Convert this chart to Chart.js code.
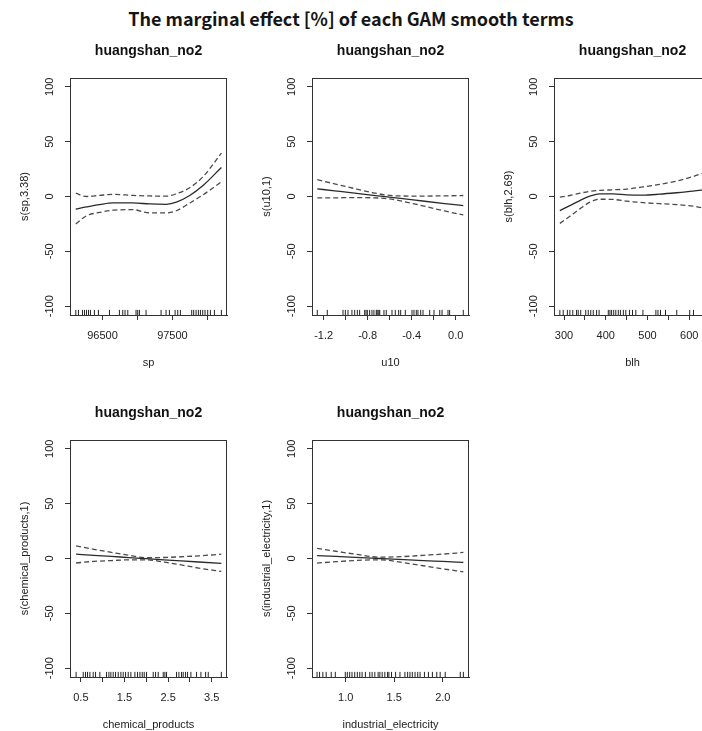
<!DOCTYPE html>
<html><head><meta charset="utf-8">
<script src="https://cdn.jsdelivr.net/npm/chart.js@4.4.1/dist/chart.umd.min.js"></script>
<style>
html,body{margin:0;padding:0;background:#fff;}
#page{position:relative;width:702px;height:731px;overflow:hidden;background:#fff;}
#title{position:absolute;left:0;top:6px;width:702px;text-align:center;font-family:"Noto Sans CJK SC","Noto Sans",sans-serif;font-weight:bold;font-size:18px;line-height:24px;color:#151515;}
.panel{position:absolute;}
canvas{display:block;}
</style></head><body>
<div id="page">
<div id="title">The marginal effect [%] of each GAM smooth terms</div>
<div class="panel" style="left:0px;top:33px;"><canvas id="c1" width="235" height="342"></canvas></div>
<div class="panel" style="left:242px;top:33px;"><canvas id="c2" width="235" height="342"></canvas></div>
<div class="panel" style="left:484px;top:33px;"><canvas id="c3" width="235" height="342"></canvas></div>
<div class="panel" style="left:0px;top:395px;"><canvas id="c4" width="235" height="342"></canvas></div>
<div class="panel" style="left:242px;top:395px;"><canvas id="c5" width="235" height="342"></canvas></div>
</div>
<script>
// ---------- data ----------
const PANEL_TITLE = 'huangshan_no2';
const Y_TICKS = [-100, -50, 0, 50, 100];
const Y_TICK_LABELS = ['-100', '-50', '0', '50', '100'];
const Y_MIN = -108, Y_MAX = 108;

// sp
const SP_X   = [96119, 96271, 96461, 96651, 96937, 97176, 97414, 97557, 97747, 97937, 98200];
const SP_FIT = [-11.4, -9.5, -7.4, -5.9, -5.9, -6.8, -7.1, -5.2, 0.9, 10.0, 26.5];
const SP_UP  = [3.0, 0.0, 1.0, 1.9, 1.0, 0.5, 0.3, 2.5, 8.0, 18.0, 39.5];
const SP_LO  = [-25.0, -17.6, -14.5, -12.5, -12.0, -15.0, -15.0, -13.0, -6.0, 1.5, 13.3];
const SP_RUG = [96119,96157,96214,96243,96271,96300,96328,96385,96442,96600,96742,96790,96823,96862,96980,97004,97028,97123,97338,97409,97457,97538,97576,97614,97776,97804,97838,97871,97900,97933,97966,98004,98043,98100,98200];
const SP_XTICKS = [96500, 97000, 97500, 98000];
const SP_XLABELS = ['96500', '', '97500', ''];

// u10
const U10_X   = [-1.258, -1.1, -0.9, -0.75, -0.62, -0.5, -0.3, -0.1, 0.069];
const U10_FIT = [7.0, 5.2, 2.9, 1.1, -0.4, -1.7, -4.1, -6.4, -8.3];
const U10_UP  = [15.3, 11.5, 6.8, 3.4, 1.2, 0.5, 0.4, 0.6, 0.9];
const U10_LO  = [-1.3, -1.2, -1.0, -1.2, -2.0, -4.0, -8.5, -13.2, -16.8];
const U10_RUG = [-1.258,-1.167,-1.024,-1.003,-0.979,-0.943,-0.918,-0.894,-0.873,-0.827,-0.815,-0.803,-0.782,-0.761,-0.743,-0.722,-0.715,-0.706,-0.697,-0.69,-0.652,-0.631,-0.579,-0.549,-0.518,-0.500,-0.458,-0.397,-0.379,-0.358,-0.343,-0.318,-0.297,-0.236,-0.197,-0.145,-0.124,-0.070,-0.055,0.069];
const U10_XTICKS = [-1.2, -1.0, -0.8, -0.6, -0.4, -0.2, 0.0];
const U10_XLABELS = ['-1.2', '', '-0.8', '', '-0.4', '', '0.0'];

// blh
const BLH_X   = [290, 314, 338, 362, 386, 418, 450, 489, 529, 569, 609, 639];
const BLH_FIT = [-12.8, -8.3, -3.7, 0.3, 2.4, 2.4, 1.5, 1.2, 2.1, 3.4, 4.9, 6.3];
const BLH_UP  = [-0.6, 0.9, 3.0, 4.7, 5.6, 6.1, 6.8, 8.7, 11.0, 14.0, 18.2, 22.0];
const BLH_LO  = [-24.5, -18.0, -11.3, -5.2, -2.5, -2.7, -4.3, -5.6, -6.5, -7.4, -8.8, -11.0];
const BLH_RUG = [290,298,308,314,321,330,334,340,352,358,364,370,378,384,406,410,414,419,424,430,435,442,448,457,464,472,489,520,525,531,543,570,601,610,639];
const BLH_XTICKS = [300, 350, 400, 450, 500, 550, 600];
const BLH_XLABELS = ['300', '', '400', '', '500', '', '600'];

// chemical_products
const CP_X   = [0.39, 0.8, 1.2, 1.6, 2.0, 2.4, 2.8, 3.2, 3.72];
const CP_FIT = [3.9, 2.9, 1.9, 0.8, -0.2, -1.2, -2.2, -3.2, -4.5];
const CP_UP  = [11.5, 8.4, 5.6, 2.9, 0.8, 0.9, 1.6, 2.4, 3.9];
const CP_LO  = [-4.1, -2.6, -1.9, -1.2, -1.2, -3.2, -5.9, -8.7, -11.8];
const CP_RUG = [0.39,0.553,0.606,0.652,0.706,0.782,0.836,0.935,1.088,1.142,1.187,1.241,1.294,1.356,1.417,1.470,1.524,1.585,1.646,1.738,1.799,1.853,1.906,1.952,2.005,2.158,2.212,2.273,2.388,2.426,2.464,2.693,2.747,2.808,2.846,2.900,2.946,3.022,3.152,3.252,3.359,3.420,3.72];
const CP_XTICKS = [0.5, 1.0, 1.5, 2.0, 2.5, 3.0, 3.5];
const CP_XLABELS = ['0.5', '', '1.5', '', '2.5', '', '3.5'];

// industrial_electricity
const IE_X   = [0.705, 0.9, 1.1, 1.35, 1.6, 1.8, 2.0, 2.212];
const IE_FIT = [2.7, 1.9, 1.0, 0.0, -1.0, -1.9, -2.7, -3.6];
const IE_UP  = [9.2, 6.6, 3.9, 1.2, 1.8, 2.9, 4.0, 5.5];
const IE_LO  = [-4.2, -2.9, -1.8, -1.2, -3.9, -6.6, -9.4, -12.1];
const IE_RUG = [0.705,0.731,0.765,0.799,0.851,0.893,0.996,1.017,1.041,1.065,1.093,1.120,1.145,1.169,1.203,1.248,1.272,1.300,1.334,1.352,1.376,1.403,1.431,1.445,1.472,1.514,1.559,1.610,1.638,1.662,1.686,1.714,1.742,1.766,1.811,1.852,1.893,1.938,1.973,2.025,2.180,2.212];
const IE_XTICKS = [1.0, 1.5, 2.0];
const IE_XLABELS = ['1.0', '1.5', '2.0'];

// ---------- drawing ----------
const FONT = '"Liberation Sans", Arial, Helvetica, sans-serif';
const TXT = '#222';
const AX = '#333';

const boxPlugin = {
  id: 'box',
  afterDraw(chart) {
    const {ctx, chartArea: a} = chart;
    ctx.save();
    ctx.strokeStyle = AX; ctx.lineWidth = 1;
    ctx.strokeRect(a.left + 0.5, a.top + 0.5, a.right - a.left - 1, a.bottom - a.top);
    // rotated y tick labels (R style)
    const s = chart.scales.y;
    ctx.font = '11px ' + FONT; ctx.fillStyle = TXT;
    ctx.textAlign = 'center'; ctx.textBaseline = 'middle';
    Y_TICKS.forEach((v, i) => {
      ctx.save();
      ctx.translate(a.left - 20, s.getPixelForValue(v));
      ctx.rotate(-Math.PI / 2);
      ctx.fillText(Y_TICK_LABELS[i], 0, 0);
      ctx.restore();
    });
    // panel title
    ctx.font = 'bold 14px ' + FONT; ctx.fillStyle = '#111';
    ctx.fillText(PANEL_TITLE, (a.left + a.right) / 2, a.top - 27);
    ctx.restore();
  }
};

function pts(xs, ys) { return xs.map((v, i) => ({x: v, y: ys[i]})); }

function panel(id, p) {
  const rugY = Y_MIN + 2.3;
  new Chart(document.getElementById(id), {
    type: 'line',
    data: {datasets: [
      {data: pts(p.x, p.fit), borderColor: '#2a2a2a', borderWidth: 1.3, pointRadius: 0, cubicInterpolationMode: 'monotone', fill: false},
      {data: pts(p.x, p.up), borderColor: '#4a4a4a', borderWidth: 1.3, borderDash: [5, 3], pointRadius: 0, cubicInterpolationMode: 'monotone', fill: false},
      {data: pts(p.x, p.lo), borderColor: '#4a4a4a', borderWidth: 1.3, borderDash: [5, 3], pointRadius: 0, cubicInterpolationMode: 'monotone', fill: false},
      {type: 'scatter', data: p.rug.map(v => ({x: v, y: rugY})), pointStyle: 'line', rotation: 90, pointRadius: 2.6, pointHoverRadius: 2.6, borderColor: '#222', borderWidth: 1, showLine: false}
    ]},
    options: {
      responsive: false, animation: false, devicePixelRatio: 1, events: [],
      layout: {padding: {left: 0, top: 45, right: 8, bottom: 0}},
      plugins: {legend: {display: false}, tooltip: {enabled: false}, title: {display: false}},
      scales: {
        x: {
          type: 'linear', min: p.xMin, max: p.xMax,
          afterBuildTicks: s => { s.ticks = p.xTicks.map(v => ({value: v})); },
          afterFit: s => { s.height = 60; },
          ticks: {callback: (v, i) => p.xLabels[i], font: {family: FONT, size: 11}, color: TXT, padding: 9, autoSkip: false, maxRotation: 0, minRotation: 0},
          grid: {display: true, drawOnChartArea: false, drawTicks: true, tickLength: 5, color: AX, lineWidth: 1},
          border: {display: true, color: AX},
          title: {display: true, text: p.xTitle, font: {family: FONT, size: 11}, color: TXT, padding: {top: 0, bottom: 5.4}}
        },
        y: {
          type: 'linear', min: Y_MIN, max: Y_MAX,
          afterBuildTicks: s => { s.ticks = Y_TICKS.map(v => ({value: v})); },
          afterFit: s => { s.width = 70; },
          ticks: {display: false},
          grid: {display: true, drawOnChartArea: false, drawTicks: true, tickLength: 5, color: AX, lineWidth: 1},
          border: {display: true, color: AX},
          title: {display: true, text: p.yTitle, font: {family: FONT, size: 11}, color: TXT, padding: {top: 17.9, bottom: 0}}
        }
      }
    },
    plugins: [boxPlugin]
  });
}

panel('c1', {x: SP_X, fit: SP_FIT, up: SP_UP, lo: SP_LO, rug: SP_RUG, xMin: 96036, xMax: 98280, xTicks: SP_XTICKS, xLabels: SP_XLABELS, xTitle: 'sp', yTitle: 's(sp,3.38)'});
panel('c2', {x: U10_X, fit: U10_FIT, up: U10_UP, lo: U10_LO, rug: U10_RUG, xMin: -1.306, xMax: 0.121, xTicks: U10_XTICKS, xLabels: U10_XLABELS, xTitle: 'u10', yTitle: 's(u10,1)'});
panel('c3', {x: BLH_X, fit: BLH_FIT, up: BLH_UP, lo: BLH_LO, rug: BLH_RUG, xMin: 276, xMax: 652, xTicks: BLH_XTICKS, xLabels: BLH_XLABELS, xTitle: 'blh', yTitle: 's(blh,2.69)'});
panel('c4', {x: CP_X, fit: CP_FIT, up: CP_UP, lo: CP_LO, rug: CP_RUG, xMin: 0.25, xMax: 3.85, xTicks: CP_XTICKS, xLabels: CP_XLABELS, xTitle: 'chemical_products', yTitle: 's(chemical_products,1)'});
panel('c5', {x: IE_X, fit: IE_FIT, up: IE_UP, lo: IE_LO, rug: IE_RUG, xMin: 0.653, xMax: 2.27, xTicks: IE_XTICKS, xLabels: IE_XLABELS, xTitle: 'industrial_electricity', yTitle: 's(industrial_electricity,1)'});
</script>
</body></html>
